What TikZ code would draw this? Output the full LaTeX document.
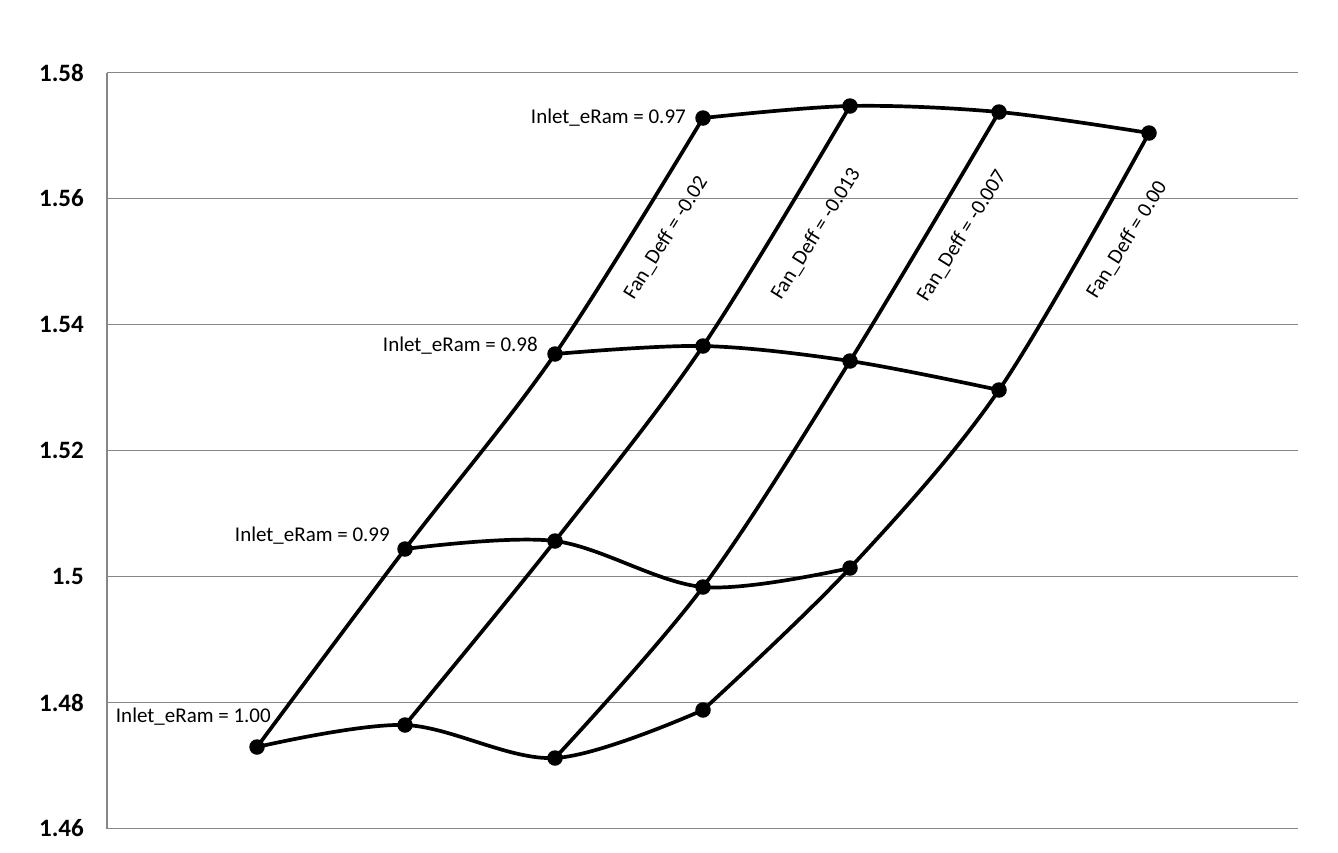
\documentclass[tikz,border=0pt]{standalone}
\usepackage{fontspec}
\setmainfont{Carlito}
\begin{document}
\begin{tikzpicture}[x=1pt,y=-1pt,
  grid/.style={draw=black!47,line width=1.1pt},
  curve/.style={draw=black,line width=3.7pt,smooth,tension=0.55},
  dot/.style={circle,fill=black,inner sep=0pt,minimum size=15.5pt},
  ticklab/.style={anchor=east,font=\fontsize{25}{28}\selectfont\bfseries,inner sep=0pt},
  rowlab/.style={anchor=east,font=\fontsize{21}{24}\selectfont,inner sep=0pt},
  collab/.style={rotate=58,font=\fontsize{21}{24}\selectfont,inner sep=0pt}]
\useasboundingbox (0,0) rectangle (1338,852);
\fill[white] (0,0) rectangle (1338,852);
% grid
\foreach \yy in {72.5,198.5,324.5,450.5,576.5,702.5,828.5}{
  \draw[grid] (107,\yy) -- (1298,\yy);
}
\draw[grid] (107,72.5) -- (107,828.5);
\node[ticklab] (t1) at (84,72.5) {1.58};
\node[ticklab] (t2) at (84,198.5) {1.56};
\node[ticklab] (t3) at (84,324.5) {1.54};
\node[ticklab] (t4) at (84,450.5) {1.52};
\node[ticklab] (t5) at (84,576.5) {1.5};
\node[ticklab] (t6) at (84,702.5) {1.48};
\node[ticklab] (t7) at (84,828.5) {1.46};
% points: a = 0.97, b = 0.98, c = 0.99, d = 1.00
\coordinate (a1) at (703,118); \coordinate (a2) at (850,106); \coordinate (a3) at (999,112); \coordinate (a4) at (1149,133);
\coordinate (b1) at (555,354); \coordinate (b2) at (703,346); \coordinate (b3) at (850,361); \coordinate (b4) at (999,390);
\coordinate (c1) at (405,549); \coordinate (c2) at (555,541); \coordinate (c3) at (703,587); \coordinate (c4) at (850,568);
\coordinate (d1) at (257,747); \coordinate (d2) at (405,725); \coordinate (d3) at (555,758); \coordinate (d4) at (703,710);
% rows
\draw[curve] plot coordinates {(a1) (a2) (a3) (a4)};
\draw[curve] plot coordinates {(b1) (b2) (b3) (b4)};
\draw[curve] plot coordinates {(c1) (c2) (c3) (c4)};
\draw[curve] plot coordinates {(d1) (d2) (d3) (d4)};
% columns
\draw[curve] plot coordinates {(d1) (c1) (b1) (a1)};
\draw[curve] plot coordinates {(d2) (c2) (b2) (a2)};
\draw[curve] plot coordinates {(d3) (c3) (b3) (a3)};
\draw[curve] plot coordinates {(d4) (c4) (b4) (a4)};
% dots
\foreach \p in {a1,a2,a3,a4,b1,b2,b3,b4,c1,c2,c3,c4,d1,d2,d3,d4}{
  \node[dot] (n\p) at (\p) {};
}
% labels
\node[rowlab] (r1) at (686,118) {Inlet\_eRam = 0.97};
\node[rowlab] (r2) at (538,346) {Inlet\_eRam = 0.98};
\node[rowlab] (r3) at (390,536) {Inlet\_eRam = 0.99};
\node[rowlab] (r4) at (271,717) {Inlet\_eRam = 1.00};
\node[collab] (k1) at (666,238) {Fan\_Deff = -0.02};
\node[collab] (k2) at (816,234) {Fan\_Deff = -0.013};
\node[collab] (k3) at (962,236) {Fan\_Deff = -0.007};
\node[collab] (k4) at (1127,240) {Fan\_Deff = 0.00};
\end{tikzpicture}
\end{document}
